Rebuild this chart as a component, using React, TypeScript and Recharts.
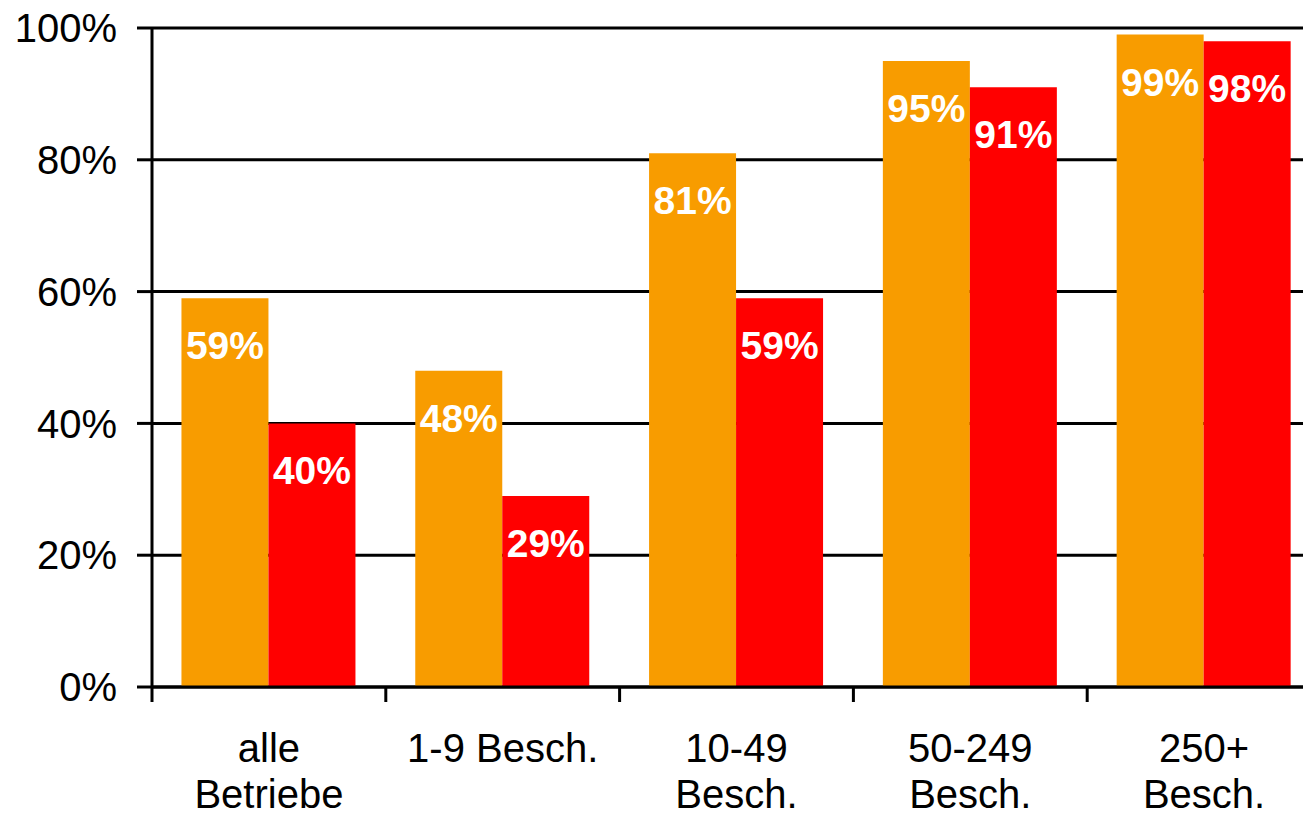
import React from "react";
import { Bar, BarChart, CartesianGrid, LabelList, XAxis, YAxis } from "recharts";

const categories = ["alle\nBetriebe", "1-9 Besch.", "10-49\nBesch.", "50-249\nBesch.", "250+\nBesch."];
const reihe1 = [59, 48, 81, 95, 99];
const reihe2 = [40, 29, 59, 91, 98];
const yTicks = [0, 20, 40, 60, 80, 100];

const data = categories.map((name, i) => ({ name, reihe1: reihe1[i], reihe2: reihe2[i] }));

const FONT = "'Liberation Sans', Arial, sans-serif";

const CategoryTick = (props: any) => {
  const { x, y, payload } = props;
  const lines = String(payload.value).split("\n");
  const half = payload.offset ?? 0;
  return (
    <g>
      <line x1={x - half} x2={x - half} y1={y} y2={y + 15} stroke="#000" strokeWidth={3} />
      {lines.map((l: string, i: number) => (
        <text
          key={i}
          x={x}
          y={y + 75 + i * 46}
          textAnchor="middle"
          fontSize={40}
          fontFamily={FONT}
          fill="#000"
        >
          {l}
        </text>
      ))}
    </g>
  );
};

const BarLabel = (props: any) => {
  const { x, y, width, value } = props;
  return (
    <text
      x={x + width / 2}
      y={y + 61}
      textAnchor="middle"
      fontSize={39}
      fontWeight="bold"
      fontFamily={FONT}
      fill="#fff"
    >
      {value}%
    </text>
  );
};

export default function App() {
  return (
    <div
      style={{
        position: "absolute",
        left: 0,
        top: 0,
        width: 1303,
        height: 817,
        overflow: "hidden",
        background: "#fff",
      }}
    >
      <BarChart
        width={1330}
        height={817}
        data={data}
        margin={{ top: 28, right: 9, bottom: 0, left: 0 }}
        barCategoryGap="12.6%"
        barGap={0}
      >
        <CartesianGrid vertical={false} stroke="#000" strokeWidth={3} strokeDasharray="" />
        <XAxis
          dataKey="name"
          height={130}
          interval={0}
          tickSize={0}
          tickMargin={0}
          tickLine={false}
          axisLine={{ stroke: "#000", strokeWidth: 3 }}
          tick={<CategoryTick />}
        />
        <YAxis
          width={152}
          domain={[0, 100]}
          ticks={yTicks}
          tickFormatter={(v: number) => `${v}%`}
          tickSize={15}
          tickMargin={20}
          tickLine={{ stroke: "#000", strokeWidth: 3 }}
          axisLine={{ stroke: "#000", strokeWidth: 3 }}
          tick={{ fontSize: 40, fontFamily: FONT, fill: "#000" }}
        />
        <Bar dataKey="reihe1" fill="#F89C00" isAnimationActive={false}>
          <LabelList dataKey="reihe1" content={<BarLabel />} />
        </Bar>
        <Bar dataKey="reihe2" fill="#FF0000" isAnimationActive={false}>
          <LabelList dataKey="reihe2" content={<BarLabel />} />
        </Bar>
      </BarChart>
    </div>
  );
}
